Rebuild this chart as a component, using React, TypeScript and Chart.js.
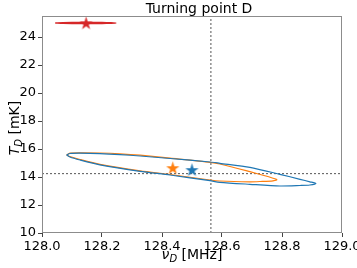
import { useEffect, useRef } from 'react';
import { Chart, registerables } from 'chart.js';

Chart.register(...registerables);

const FONT = 'DejaVu Sans';

const titleText = 'Turning point D';
const xTicks = [128.0, 128.2, 128.4, 128.6, 128.8, 129.0];
const yTicks = [10, 12, 14, 16, 18, 20, 22, 24];
const xMin = 128.0;
const xMax = 129.0;
const yMin = 10;
const yMax = 25.5;

// reference lines
const refX = 128.563;
const refY = 14.24;

// blue contour (traced)
const blueX = [128.082, 128.093, 128.127, 128.193, 128.26, 128.327, 128.427, 128.56, 128.593, 128.693, 128.793, 128.86, 128.893, 128.913,
  128.893, 128.86, 128.793, 128.693, 128.593, 128.56, 128.427, 128.327, 128.193, 128.127, 128.093, 128.082];
const blueY = [15.571, 15.679, 15.7, 15.671, 15.6, 15.5, 15.321, 15.071, 14.979, 14.693, 14.193, 13.836, 13.657, 13.536,
  13.429, 13.393, 13.357, 13.479, 13.621, 13.736, 14.143, 14.407, 14.871, 15.214, 15.429, 15.571];

// orange contour (traced)
const orangeX = [128.082, 128.093, 128.127, 128.193, 128.26, 128.327, 128.427, 128.56, 128.593, 128.693, 128.743, 128.77, 128.783,
  128.77, 128.727, 128.693, 128.593, 128.56, 128.427, 128.327, 128.193, 128.127, 128.093, 128.082];
const orangeY = [15.571, 15.7, 15.729, 15.714, 15.657, 15.557, 15.343, 15.05, 14.929, 14.379, 14.086, 13.914, 13.821,
  13.729, 13.679, 13.657, 13.714, 13.786, 14.179, 14.443, 14.907, 15.25, 15.464, 15.571];

// red contour (traced)
const redX = [128.044, 128.07, 128.1, 128.15, 128.2, 128.23, 128.247, 128.23, 128.2, 128.15, 128.1, 128.07, 128.044];
const redY = [25.0, 25.025, 25.035, 25.04, 25.035, 25.02, 25.0, 24.98, 24.965, 24.96, 24.965, 24.975, 25.0];

// best-fit stars
const starNames = ['blue', 'orange', 'red'];
const starX = [128.5, 128.436, 128.147];
const starY = [14.52, 14.66, 25.0];
const starColors = ['#1f77b4', '#ff7f0e', '#d62728'];

const toPts = (xs: number[], ys: number[]) => xs.map((x, i) => ({ x, y: ys[i] }));

function makeStar(color: string) {
  const size = 15;
  const c = document.createElement('canvas');
  c.width = size;
  c.height = size;
  const g = c.getContext('2d')!;
  const cx = size / 2;
  const cy = size / 2 + 0.6;
  const R = 7;
  const r = R * 0.38;
  g.beginPath();
  for (let i = 0; i < 10; i++) {
    const a = -Math.PI / 2 + (i * Math.PI) / 5;
    const rad = i % 2 === 0 ? R : r;
    g.lineTo(cx + rad * Math.cos(a), cy + rad * Math.sin(a));
  }
  g.closePath();
  g.fillStyle = color;
  g.fill();
  return c;
}

function drawParts(ctx: CanvasRenderingContext2D, parts: { t: string; f: string; dy: number }[], cx: number, base: number) {
  let w = 0;
  for (const p of parts) {
    ctx.font = p.f;
    w += ctx.measureText(p.t).width;
  }
  let x = cx - w / 2;
  ctx.textAlign = 'left';
  ctx.textBaseline = 'alphabetic';
  for (const p of parts) {
    ctx.font = p.f;
    ctx.fillText(p.t, x, base + p.dy);
    x += ctx.measureText(p.t).width;
  }
}

const framePlugin = {
  id: 'frameAndText',
  afterDraw(chart: any) {
    const ctx = chart.ctx as CanvasRenderingContext2D;
    const { left, right, top, bottom } = chart.chartArea;
    ctx.save();
    ctx.strokeStyle = '#8c8c8c';
    ctx.lineWidth = 1;
    ctx.strokeRect(Math.round(left) + 0.5, Math.round(top) + 0.5, Math.round(right - left) - 1, Math.round(bottom - top) - 1);
    ctx.fillStyle = '#000';
    // title
    ctx.font = `14px ${FONT}`;
    ctx.textAlign = 'center';
    ctx.textBaseline = 'alphabetic';
    ctx.fillText(titleText, 199, 13);
    // x label
    drawParts(ctx, [
      { t: 'ν', f: `italic 14px ${FONT}`, dy: 0 },
      { t: 'D', f: `italic 10px ${FONT}`, dy: 2.5 },
      { t: ' [MHz]', f: `14px ${FONT}`, dy: 0 },
    ], (left + right) / 2, 259);
    // y label
    ctx.translate(19, 128);
    ctx.rotate(-Math.PI / 2);
    drawParts(ctx, [
      { t: 'T', f: `italic 14px ${FONT}`, dy: 0 },
      { t: 'D', f: `italic 10px ${FONT}`, dy: 2.5 },
      { t: ' [mK]', f: `14px ${FONT}`, dy: 0 },
    ], 0, 0);
    ctx.restore();
  },
};

export default function App() {
  const ref = useRef<HTMLCanvasElement | null>(null);

  useEffect(() => {
    if (!ref.current) return;
    const stars = starColors.map(makeStar);
    const lineDs = (data: any[], color: string, extra: any = {}) => ({
      type: 'scatter' as const,
      data,
      showLine: true,
      borderColor: color,
      backgroundColor: color,
      borderWidth: 1.2,
      pointRadius: 0,
      fill: false,
      tension: 0.25,
      ...extra,
    });
    const chart = new Chart(ref.current, {
      type: 'scatter',
      data: {
        datasets: [
          ...starNames.map((n, i) => ({
            label: n + ' star',
            data: [{ x: starX[i], y: starY[i] }],
            pointStyle: stars[i] as any,
            pointRadius: 6,
            backgroundColor: starColors[i],
            borderColor: starColors[i],
            order: 0,
          })),
          lineDs(toPts(blueX, blueY), '#1f77b4', { order: 1, label: 'blue' }),
          lineDs(toPts(orangeX, orangeY), '#ff7f0e', { order: 1, label: 'orange' }),
          lineDs(toPts(redX, redY), '#d62728', { order: 1, label: 'red', borderWidth: 1.4 }),
          lineDs([{ x: xMin, y: refY }, { x: xMax, y: refY }], '#555', { order: 2, borderDash: [2, 2], borderWidth: 1, tension: 0, label: 'h' }),
          lineDs([{ x: refX, y: yMin }, { x: refX, y: yMax }], '#555', { order: 2, borderDash: [2, 2], borderWidth: 1, tension: 0, label: 'v' }),
        ] as any,
      },
      options: {
        animation: false,
        responsive: false,
        maintainAspectRatio: false,
        devicePixelRatio: 1,
        layout: { padding: { left: 0, right: 15, top: 16, bottom: 0 } },
        plugins: {
          legend: { display: false },
          tooltip: { enabled: false },
          title: { display: false },
        },
        scales: {
          x: {
            type: 'linear',
            min: xMin,
            max: xMax,
            afterBuildTicks: (s: any) => {
              s.ticks = xTicks.map((v) => ({ value: v }));
            },
            afterFit: (s: any) => {
              s.height = 35;
              s.paddingLeft = 0;
              s.paddingRight = 0;
            },
            ticks: {
              callback: (v: any) => Number(v).toFixed(1),
              font: { size: 13, family: FONT },
              color: '#000',
              padding: 2,
              maxRotation: 0,
              autoSkip: false,
            },
            grid: { drawOnChartArea: false, drawTicks: true, tickLength: 4, color: '#444' },
            border: { display: false },
          },
          y: {
            type: 'linear',
            min: yMin,
            max: yMax,
            afterBuildTicks: (s: any) => {
              s.ticks = yTicks.map((v) => ({ value: v }));
            },
            afterFit: (s: any) => {
              s.width = 42;
              s.paddingTop = 0;
              s.paddingBottom = 0;
            },
            ticks: {
              callback: (v: any) => String(v),
              font: { size: 13, family: FONT },
              color: '#000',
              padding: 2,
              autoSkip: false,
            },
            grid: { drawOnChartArea: false, drawTicks: true, tickLength: 4, color: '#444' },
            border: { display: false },
          },
        },
      } as any,
      plugins: [framePlugin],
    });
    return () => chart.destroy();
  }, []);

  return (
    <div style={{ position: 'absolute', left: 0, top: 0, width: 357, height: 268, background: '#fff' }}>
      <canvas ref={ref} width={357} height={268} style={{ display: 'block', width: 357, height: 268 }} />
    </div>
  );
}
